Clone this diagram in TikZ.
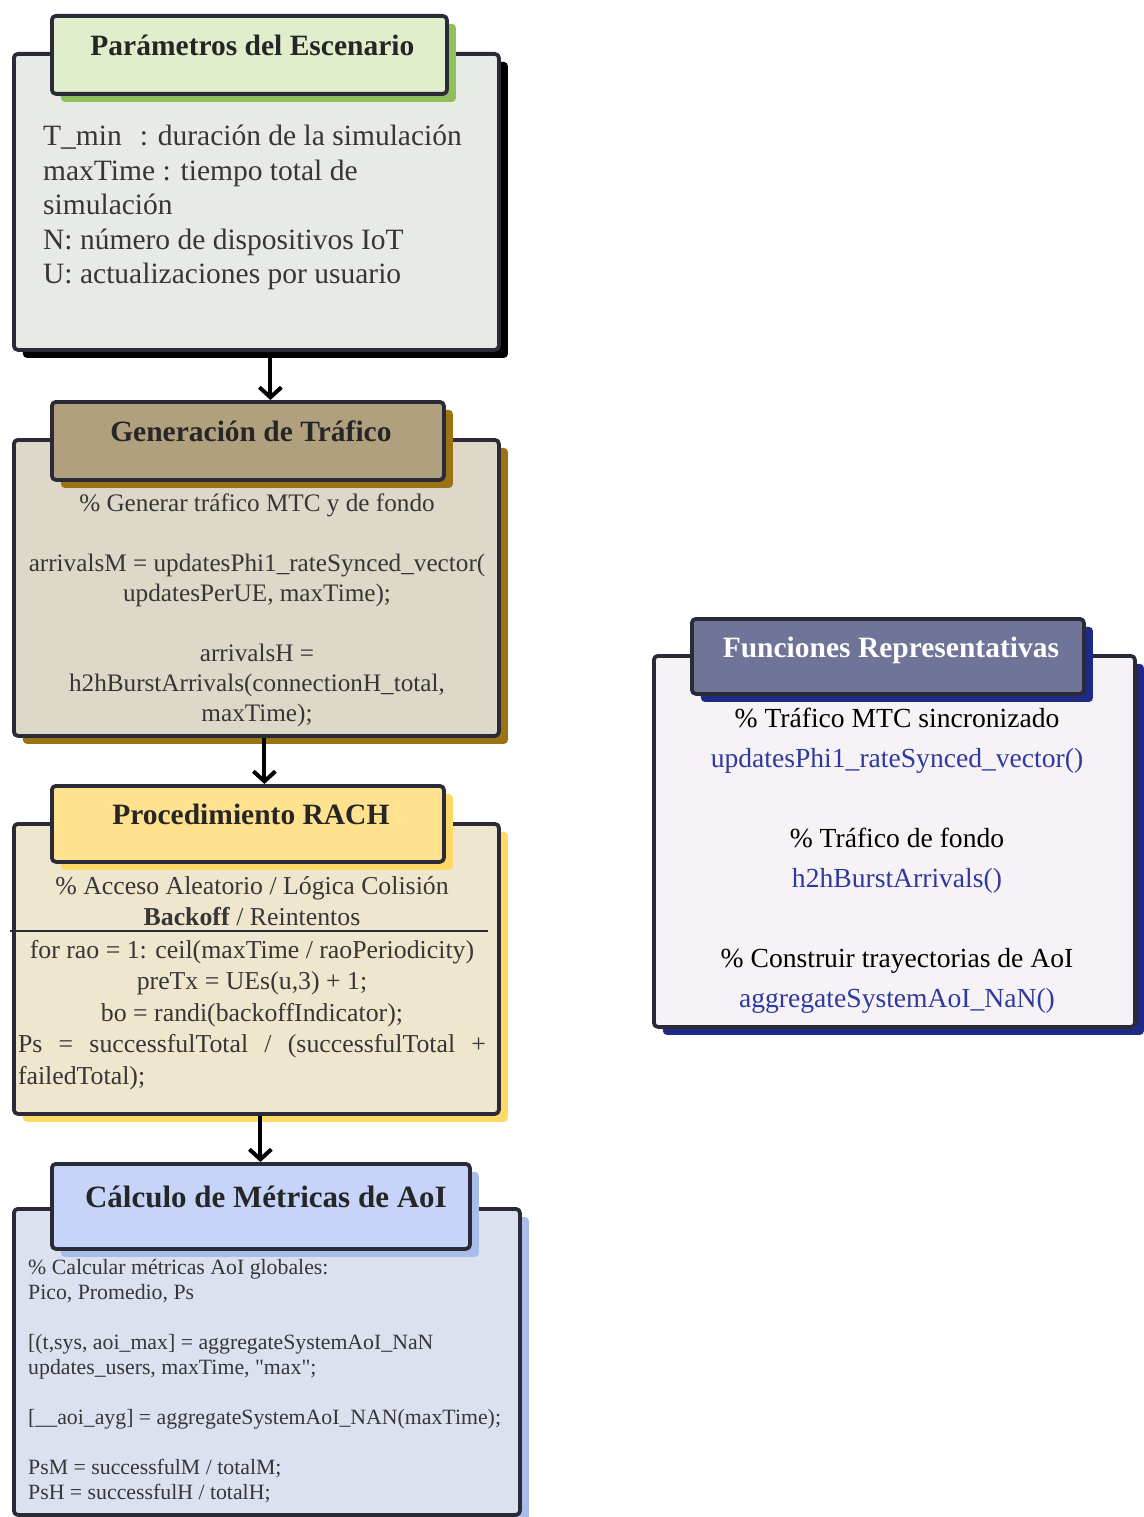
\documentclass[tikz,border=0pt]{standalone}
\usepackage{fontspec}
\setmainfont{Liberation Serif}
\usetikzlibrary{arrows.meta,shadows}

\definecolor{ink}{HTML}{2A2B36}
\definecolor{txt}{HTML}{363636}
\definecolor{fnblue}{HTML}{2E3A9E}
\definecolor{parbody}{HTML}{E8EAE5}
\definecolor{partab}{HTML}{E0EECB}
\definecolor{parshade}{HTML}{8FBF5A}
\definecolor{genbody}{HTML}{DDD8C8}
\definecolor{gentab}{HTML}{B0A07E}
\definecolor{genshade}{HTML}{9C7314}
\definecolor{rachbody}{HTML}{EFE6CE}
\definecolor{rachtab}{HTML}{FFE18E}
\definecolor{rachshade}{HTML}{FFD966}
\definecolor{aoibody}{HTML}{DCE1F0}
\definecolor{aoitab}{HTML}{C6D4FA}
\definecolor{aoishade}{HTML}{A9BDEB}
\definecolor{funbody}{HTML}{F6F2F6}
\definecolor{funtab}{HTML}{6F7498}
\definecolor{funshade}{HTML}{1E2A85}

\newcommand{\setfs}[2]{\fontsize{#1}{#2}\selectfont}
\newcommand{\dq}{\XeTeXglyph\XeTeXcharglyph"22\relax}

\tikzset{
  sketch/.style={draw=ink, line width=3.8pt, rounded corners=4pt, line join=round},
  panel/.style 2 args={sketch, rectangle, anchor=north west, inner sep=0pt,
    fill=#1, drop shadow={fill=#2, opacity=1, shadow xshift=9pt, shadow yshift=-8pt}},
  title/.style={font=\setfs{29.5}{34}\bfseries, text=black!85, text height=21pt, text depth=19pt},
  info/.style={inner sep=0pt, text=txt},
  flow/.style={draw=black, line width=4pt, -{Straight Barb[length=10pt,width=22pt]}}
}

\begin{document}
\begin{tikzpicture}[x=1pt, y=-1pt]
\useasboundingbox (0,0) rectangle (1143,1517);

% parametros
\node[panel={parbody}{black}, minimum width=485pt, minimum height=296pt] (body1) at (12,52) {};
\node[panel={partab}{parshade}, minimum width=395pt, minimum height=78pt] (tab1) at (50,14) {};
\node[title] (title1) at ([xshift=3pt]tab1.center) {Parámetros del Escenario};
\node[info, anchor=north west, align=left, font=\setfs{29.5}{34.5}] (info1) at (43,125)
  {T\_min\hspace{18pt}: duración de la simulación\\
   maxTime : tiempo total de\\
   simulación\\
   N: número de dispositivos IoT\\
   U: actualizaciones por usuario};

% generacion
\node[panel={genbody}{genshade}, minimum width=485pt, minimum height=296pt] (body2) at (12,438) {};
\node[panel={gentab}{genshade}, minimum width=392pt, minimum height=78pt] (tab2) at (50,400) {};
\node[title] (title2) at ([xshift=3pt]tab2.center) {Generación de Tráfico};
\node[info, anchor=north, align=center, font=\setfs{25.2}{30}] (info2) at (257,494)
  {\% Generar tráfico MTC y de fondo\\[30pt]
   arrivalsM = updatesPhi1\_rateSynced\_vector(\\
   updatesPerUE, maxTime);\\[30pt]
   arrivalsH =\\
   h2hBurstArrivals(connectionH\_total,\\
   maxTime);};

% rach
\node[panel={rachbody}{rachshade}, minimum width=485pt, minimum height=290pt] (body3) at (12,822) {};
\node[panel={rachtab}{rachshade}, minimum width=392pt, minimum height=76pt] (tab3) at (50,784) {};
\node[title] (title3) at ([xshift=3pt]tab3.center) {Procedimiento RACH};
\node[info, anchor=north, align=center, font=\setfs{25.8}{31.5}] (info3) at (252,876)
  {\% Acceso Aleatorio / Lógica Colisión\\
   \textbf{Backoff} / Reintentos};
\draw[ink, line width=1.8pt] (10,931) -- (488,931);
\node[info, anchor=north, align=center, font=\setfs{25.8}{31.5}] (code3) at (252,940)
  {for rao = 1: ceil(maxTime / raoPeriodicity)\\
   preTx = UEs(u,3) + 1;\\
   bo = randi(backoffIndicator);\\
   \makebox[468pt][s]{Ps = successfulTotal / (successfulTotal +}\\
   \makebox[468pt][l]{failedTotal);}};

% aoi
\node[panel={aoibody}{aoishade}, minimum width=506pt, minimum height=306pt] (body4) at (12,1207) {};
\node[panel={aoitab}{aoishade}, minimum width=418pt, minimum height=85pt] (tab4) at (50,1162) {};
\node[title, font=\setfs{31}{36}\bfseries] (title4) at ([xshift=5pt]tab4.center) {Cálculo de Métricas de AoI};
\node[info, anchor=north west, align=left, font=\setfs{21.8}{25}] (info4) at (28,1259)
  {\% Calcular métricas AoI globales:\\
   Pico, Promedio, Ps\\[25pt]
   [(t,sys, aoi\_max] = aggregateSystemAoI\_NaN\\
   updates\_users, maxTime, \dq max\dq;\\[25pt]
   [\_\_aoi\_ayg] = aggregateSystemAoI\_NAN(maxTime);\\[25pt]
   PsM = successfulM / totalM;\\
   PsH = successfulH / totalH;};

% funciones
\node[panel={funbody}{funshade}, minimum width=481pt, minimum height=371pt] (body5) at (652,654) {};
\node[panel={funtab}{funshade}, minimum width=392pt, minimum height=75pt] (tab5) at (690,617) {};
\node[title, text=white] (title5) at ([xshift=3pt]tab5.center) {Funciones Representativas};
\node[info, anchor=north, align=center, font=\setfs{27.6}{40}, text=black] (info5) at (897,708)
  {\% Tráfico MTC sincronizado\\
   \textcolor{fnblue}{updatesPhi1\_rateSynced\_vector()}\\[40pt]
   \% Tráfico de fondo\\
   \textcolor{fnblue}{h2hBurstArrivals()}\\[40pt]
   \% Construir trayectorias de AoI\\
   \textcolor{fnblue}{aggregateSystemAoI\_NaN()}};

% arrows
\draw[flow] ([xshift=14pt]body1.south) -- ([xshift=14pt]body1.south |- tab2.north);
\draw[flow] ([xshift=8pt]body2.south) -- ([xshift=8pt]body2.south |- tab3.north);
\draw[flow] ([xshift=4pt]body3.south) -- ([xshift=4pt]body3.south |- tab4.north);
\end{tikzpicture}
\end{document}
